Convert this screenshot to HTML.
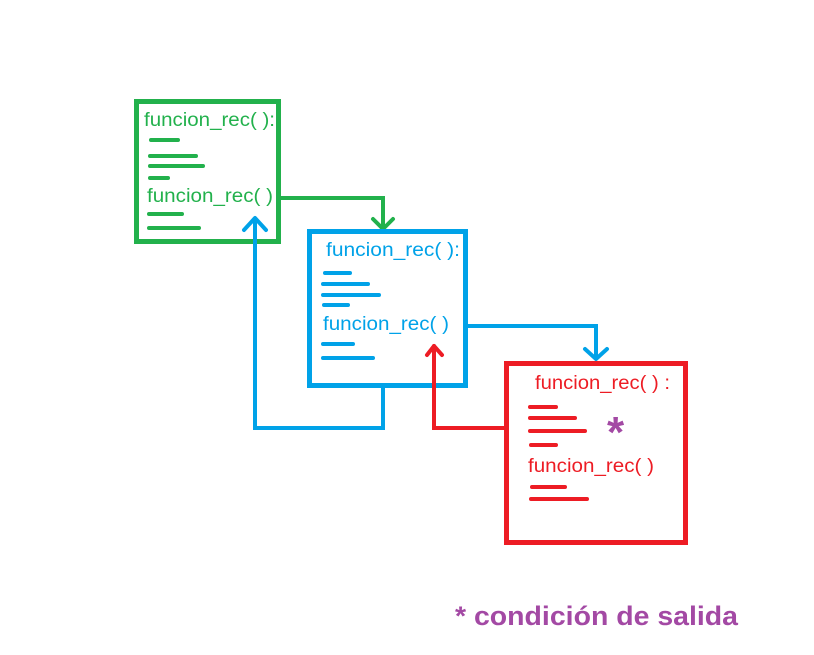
<!DOCTYPE html>
<html><head><meta charset="utf-8"><style>html,body{margin:0;padding:0;background:#fff;}svg{display:block}</style></head>
<body>
<svg width="814" height="655" viewBox="0 0 814 655" xmlns="http://www.w3.org/2000/svg" font-family="'Liberation Sans', 'DejaVu Sans', sans-serif">
<rect width="814" height="655" fill="#fff"/>
<g fill="none" stroke-linecap="round" stroke-linejoin="round">
<rect x="136.5" y="101.5" width="142" height="140" stroke="#22b14c" stroke-width="5" stroke-linejoin="miter"/>
<g stroke="#22b14c" stroke-width="4">
<line x1="151" y1="140" x2="178" y2="140"/>
<line x1="150" y1="156" x2="196" y2="156"/>
<line x1="150" y1="166" x2="203" y2="166"/>
<line x1="150" y1="178" x2="168" y2="178"/>
<line x1="149" y1="214" x2="182" y2="214"/>
<line x1="149" y1="228" x2="199" y2="228"/>
<polyline points="279,198 383,198 383,228" stroke-linejoin="miter"/>
<polyline points="373,219 383,229 393,219"/>
</g>
<rect x="309.5" y="231.5" width="156" height="154" stroke="#00a2e8" stroke-width="5" stroke-linejoin="miter"/>
<g stroke="#00a2e8" stroke-width="4">
<line x1="325" y1="273" x2="350" y2="273"/>
<line x1="323" y1="284" x2="368" y2="284"/>
<line x1="323" y1="295" x2="379" y2="295"/>
<line x1="324" y1="305" x2="348" y2="305"/>
<line x1="323" y1="344" x2="353" y2="344"/>
<line x1="323" y1="358" x2="373" y2="358"/>
<polyline points="383,386 383,428 255,428 255,220" stroke-linejoin="miter"/>
<polyline points="244,230 255,218 266,230"/>
<polyline points="465,326 596,326 596,358" stroke-linejoin="miter"/>
<polyline points="585,349 596,359 607,349"/>
</g>
<rect x="506.5" y="363.5" width="179" height="179" stroke="#ed1c24" stroke-width="5" stroke-linejoin="miter"/>
<g stroke="#ed1c24" stroke-width="4">
<line x1="530" y1="407" x2="556" y2="407"/>
<line x1="530" y1="418" x2="575" y2="418"/>
<line x1="530" y1="431" x2="585" y2="431"/>
<line x1="531" y1="445" x2="556" y2="445"/>
<line x1="532" y1="487" x2="565" y2="487"/>
<line x1="531" y1="499" x2="587" y2="499"/>
<polyline points="505,428 434,428 434,346" stroke-linejoin="miter"/>
<polyline points="427,355 434,346 442,355"/>
</g>
</g>
<g font-size="19">
<text x="144" y="126" fill="#22b14c" textLength="131" lengthAdjust="spacingAndGlyphs">funcion_rec( ):</text>
<text x="147" y="202" fill="#22b14c" textLength="126" lengthAdjust="spacingAndGlyphs">funcion_rec( )</text>
<text x="326" y="256" fill="#00a2e8" textLength="134" lengthAdjust="spacingAndGlyphs">funcion_rec( ):</text>
<text x="323" y="330" fill="#00a2e8" textLength="126" lengthAdjust="spacingAndGlyphs">funcion_rec( )</text>
<text x="535" y="389" fill="#ed1c24" textLength="135" lengthAdjust="spacingAndGlyphs">funcion_rec( ) :</text>
<text x="528" y="472" fill="#ed1c24" textLength="126" lengthAdjust="spacingAndGlyphs">funcion_rec( )</text>
</g>
<text x="607" y="447" fill="#a349a4" font-size="44" font-weight="bold">*</text>
<text x="455" y="625" fill="#a349a4" font-size="27" font-weight="bold" textLength="283" lengthAdjust="spacingAndGlyphs">* condición de salida</text>
</svg>
</body></html>
